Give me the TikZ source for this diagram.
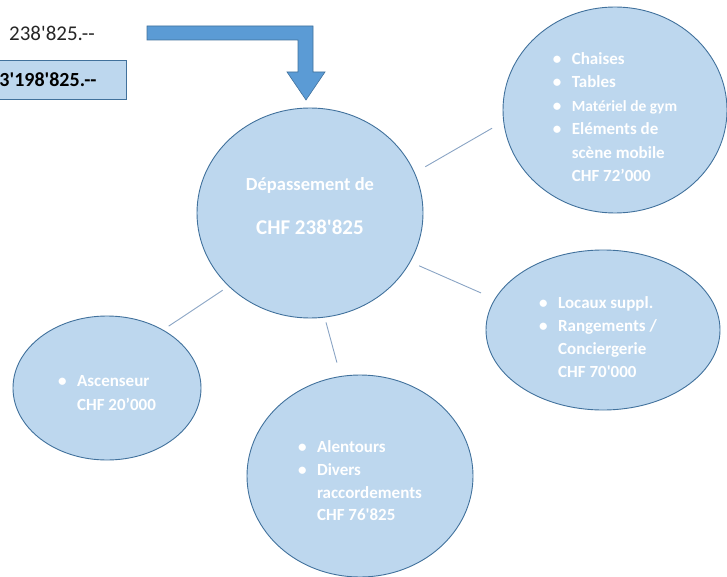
\documentclass[tikz,border=0pt]{standalone}
\usepackage{fontspec}
\setmainfont{Carlito}[Ligatures=TeXOff]
\usetikzlibrary{shapes.geometric}
\definecolor{bubblefill}{HTML}{BDD7EE}
\definecolor{bubbleedge}{HTML}{41719C}
\definecolor{arrowfill}{HTML}{5B9BD5}
\definecolor{linkcol}{HTML}{8AA4C4}
\definecolor{darktext}{HTML}{262626}
\newcommand{\itm}[1]{\makebox[19pt][l]{\textbullet}#1}
\newcommand{\cnt}[1]{\hspace*{19pt}#1}
\begin{document}
\begin{tikzpicture}[x=1pt,y=-1pt,
    bubble/.style={ellipse, draw=bubbleedge, line width=0.9pt, fill=bubblefill, inner sep=0pt},
    bubbletext/.style={text=white, font=\bfseries\fontsize{17}{23}\selectfont, align=left, inner sep=0pt},
    link/.style={draw=linkcol, line width=0.9pt},
    totalbox/.style={draw=bubbleedge, line width=0.9pt, fill=bubblefill,
      text=black, font=\bfseries\fontsize{20}{24}\selectfont}]
    \useasboundingbox (0,0) rectangle (727,577);

    % Draw bent arrow
    \filldraw[fill=arrowfill, draw=bubbleedge, line width=0.6pt]
      (147,26) -- (313,26) -- (313,72) -- (325,72) -- (306,100)
      -- (287,72) -- (298,72) -- (298,40) -- (147,40) -- cycle;

    % Draw amounts
    \node[font=\fontsize{21}{25}\selectfont, text=darktext, anchor=west, inner sep=0pt] (extra) at (9,33) {238'825.--};
    \node[totalbox, anchor=west, inner xsep=5pt, text width=122pt, minimum height=39pt, align=left] (total) at (-6,79.5) {3'198'825.--};

    % Draw bubbles
    \node[bubble, minimum width=226pt, minimum height=210pt] (dep) at (310,213) {};
    \node[bubble, minimum width=224pt, minimum height=206pt] (mat) at (615,110) {};
    \node[bubble, minimum width=234pt, minimum height=160pt] (loc) at (603,330) {};
    \node[bubble, minimum width=188pt, minimum height=144pt] (asc) at (107,388) {};
    \node[bubble, minimum width=226pt, minimum height=202pt] (ale) at (360,476) {};

    % Bubble texts
    \node[bubbletext, align=center] (dep text) at ([yshift=7pt]dep.center)
      {\fontsize{18.5}{24}\selectfont Dépassement de\\[21pt]\fontsize{21}{24}\selectfont CHF 238'825};
    \node[bubbletext, font=\bfseries\fontsize{17}{23.4}\selectfont] (mat text) at ([yshift=-7pt]mat.center)
      {\itm{Chaises}\\ \itm{Tables}\\ \itm{{\fontsize{15.5}{23.4}\selectfont Matériel de gym}}\\ \itm{Eléments de}\\ \cnt{scène mobile}\\ \cnt{CHF 72’000}};
    \node[bubbletext] (loc text) at ([xshift=-5pt,yshift=-7pt]loc.center)
      {\itm{Locaux suppl.}\\ \itm{Rangements /}\\ \cnt{Conciergerie}\\ \cnt{CHF 70'000}};
    \node[bubbletext, font=\bfseries\fontsize{17}{24}\selectfont] (asc text) at ([yshift=-5pt]asc.center)
      {\itm{Ascenseur}\\ \cnt{CHF 20’000}};
    \node[bubbletext, font=\bfseries\fontsize{17}{22.7}\selectfont] (ale text) at ([yshift=-5pt]ale.center)
      {\itm{Alentours}\\ \itm{Divers}\\ \cnt{raccordements}\\ \cnt{CHF 76'825}};

    % Draw links
    \draw[link, shorten <=12pt, shorten >=13pt] (dep.21.8) -- (mat.186.4);
    \draw[link, shorten <=9.5pt, shorten >=15pt] (dep.-26.6) -- (loc.164.5);
    \draw[link, shorten <=7pt, shorten >=6.6pt] (dep.222.9) -- (asc.46.4);
    \draw[link, shorten <=5pt, shorten >=14pt] (dep.-82.2) -- (ale.101.5);
\end{tikzpicture}
\end{document}
